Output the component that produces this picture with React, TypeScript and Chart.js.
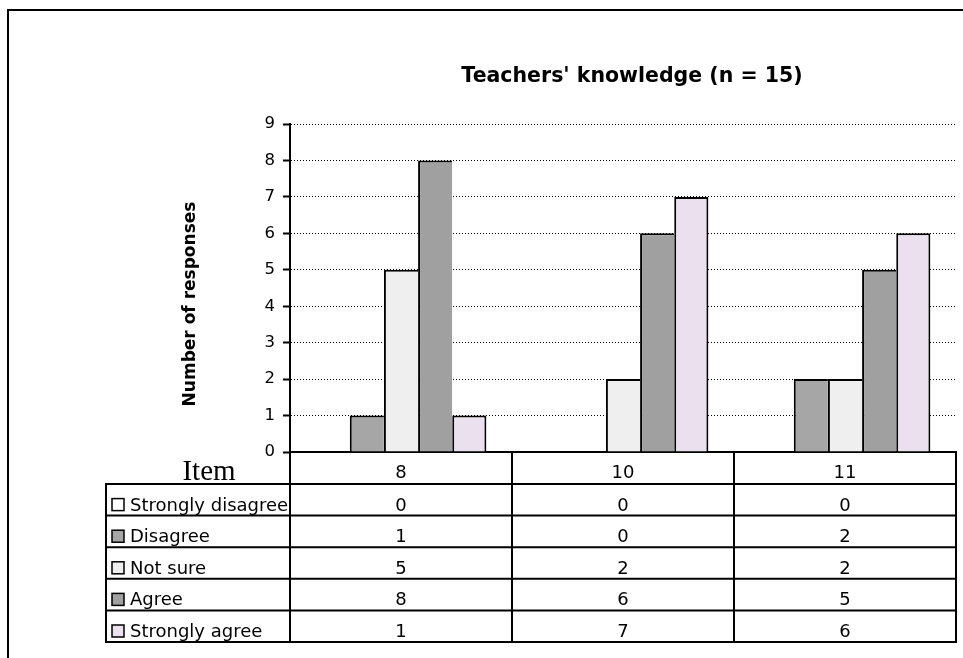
import React, { useEffect, useRef } from "react";
import { Chart, registerables } from "chart.js";

Chart.register(...registerables);

const chartTitle = "Teachers' knowledge (n = 15)";
const yAxisTitle = "Number of responses";
const tableCorner = "Item";
const categories = ["8", "10", "11"];
const seriesNames = ["Strongly disagree", "Disagree", "Not sure", "Agree", "Strongly agree"];
const stronglyDisagree = [0, 0, 0];
const disagree = [1, 0, 2];
const notSure = [5, 2, 2];
const agree = [8, 6, 5];
const stronglyAgree = [1, 7, 6];
const yTicks = [0, 1, 2, 3, 4, 5, 6, 7, 8, 9];

const seriesValues = [stronglyDisagree, disagree, notSure, agree, stronglyAgree];
const seriesColors = ["#ffffff", "#a6a6a6", "#efefef", "#a0a0a0", "#ebe0ee"];

const W = 963;
const H = 658;

const decorPlugin = {
  id: "decor",
  afterDraw(chart: any) {
    const ctx = chart.ctx as CanvasRenderingContext2D;
    const area = chart.chartArea;
    const xs = chart.scales.x;
    ctx.save();

    // outer frame
    ctx.strokeStyle = "#000";
    ctx.lineWidth = 2;
    ctx.beginPath();
    ctx.moveTo(8, H);
    ctx.lineTo(8, 10);
    ctx.lineTo(W, 10);
    ctx.stroke();

    // title
    ctx.fillStyle = "#000";
    ctx.font = "bold 20.5px 'DejaVu Sans'";
    ctx.textAlign = "center";
    ctx.textBaseline = "alphabetic";
    ctx.fillText(chartTitle, (area.left + area.right) / 2 + 9, 82);

    // y axis title
    ctx.save();
    ctx.translate(195, 304);
    ctx.rotate(-Math.PI / 2);
    ctx.font = "bold 17px 'DejaVu Sans'";
    ctx.textAlign = "center";
    ctx.fillText(yAxisTitle, 0, 0);
    ctx.restore();

    // data table
    const n = categories.length;
    const colW = (xs.right - xs.left) / n;
    const bounds: number[] = [];
    for (let i = 0; i <= n; i++) bounds.push(xs.left + i * colW);
    const top = area.bottom;
    const headerBottom = top + 32;
    const tableBottom = 642;
    const rowH = (tableBottom - headerBottom) / seriesNames.length;
    const labelLeft = 106;
    const right = bounds[n];

    ctx.save();
    ctx.beginPath();
    ctx.rect(0, 0, W, tableBottom);
    ctx.clip();

    // "Item"
    ctx.font = "29px 'Liberation Serif'";
    ctx.textAlign = "center";
    ctx.fillStyle = "#000";
    ctx.fillText(tableCorner, 209, 480);

    ctx.font = "18px 'DejaVu Sans'";
    categories.forEach((c, i) => {
      ctx.fillText(c, (bounds[i] + bounds[i + 1]) / 2, headerBottom - 6);
    });

    seriesNames.forEach((name, r) => {
      const rb = headerBottom + (r + 1) * rowH;
      const base = rb - 5;
      ctx.fillStyle = seriesColors[r];
      ctx.fillRect(112, base - 12, 12, 12);
      ctx.lineWidth = 1.5;
      ctx.strokeStyle = "#000";
      ctx.strokeRect(112, base - 12, 12, 12);
      ctx.fillStyle = "#000";
      ctx.textAlign = "left";
      ctx.fillText(name, 130, base);
      ctx.textAlign = "center";
      seriesValues[r].forEach((v, i) => {
        ctx.fillText(String(v), (bounds[i] + bounds[i + 1]) / 2, base);
      });
    });
    ctx.restore();

    // table lines
    ctx.strokeStyle = "#000";
    ctx.lineWidth = 2;
    ctx.beginPath();
    for (let r = 0; r <= seriesNames.length; r++) {
      const y = headerBottom + r * rowH;
      ctx.moveTo(labelLeft - 1, y);
      ctx.lineTo(right + 1, y);
    }
    ctx.moveTo(labelLeft, headerBottom);
    ctx.lineTo(labelLeft, tableBottom);
    bounds.forEach((b) => {
      ctx.moveTo(b, top);
      ctx.lineTo(b, tableBottom);
    });
    ctx.stroke();

    ctx.restore();
  },
};

export default function App() {
  const ref = useRef<HTMLCanvasElement | null>(null);

  useEffect(() => {
    if (!ref.current) return;
    const chart = new Chart(ref.current, {
      type: "bar",
      data: {
        labels: categories,
        datasets: seriesNames.map((name, i) => ({
          label: name,
          data: seriesValues[i],
          backgroundColor: seriesColors[i],
          borderColor: "#000",
          borderWidth: { top: 2, left: 2, right: i === seriesNames.length - 1 ? 2 : 0, bottom: 0 },
          borderSkipped: false,
          categoryPercentage: 5 / 6.5,
          barPercentage: 1,
        })),
      },
      options: {
        responsive: false,
        animation: false,
        devicePixelRatio: 1,
        layout: { padding: { left: 0, top: 124, right: 7, bottom: 0 } },
        plugins: {
          legend: { display: false },
          title: { display: false },
          tooltip: { enabled: false },
        },
        scales: {
          x: {
            type: "category",
            afterFit: (s: any) => {
              s.height = H - 452;
            },
            ticks: { display: false },
            grid: { display: true, drawOnChartArea: false, drawTicks: false },
            border: { display: true, color: "#000", width: 2 },
          },
          y: {
            type: "linear",
            min: yTicks[0],
            max: yTicks[yTicks.length - 1],
            afterFit: (s: any) => {
              s.width = 290;
            },
            afterBuildTicks: (s: any) => {
              s.ticks = yTicks.map((v) => ({ value: v }));
            },
            ticks: {
              stepSize: 1,
              padding: 8,
              color: "#000",
              font: { family: "'DejaVu Sans'", size: 16.5 },
            },
            grid: {
              color: "#000",
              lineWidth: 1,
              drawTicks: true,
              tickLength: 7,
              tickWidth: 2,
              tickColor: "#000",
              tickBorderDash: [],
            },
            border: { display: true, color: "#000", width: 2, dash: [1, 2] },
          },
        },
      },
      plugins: [decorPlugin],
    } as any);
    return () => chart.destroy();
  }, []);

  return (
    <div
      style={{
        position: "absolute",
        left: 0,
        top: 0,
        width: W,
        height: H,
        background: "#fff",
        overflow: "hidden",
      }}
    >
      <canvas ref={ref} width={W} height={H} style={{ width: W, height: H, display: "block" }} />
    </div>
  );
}
